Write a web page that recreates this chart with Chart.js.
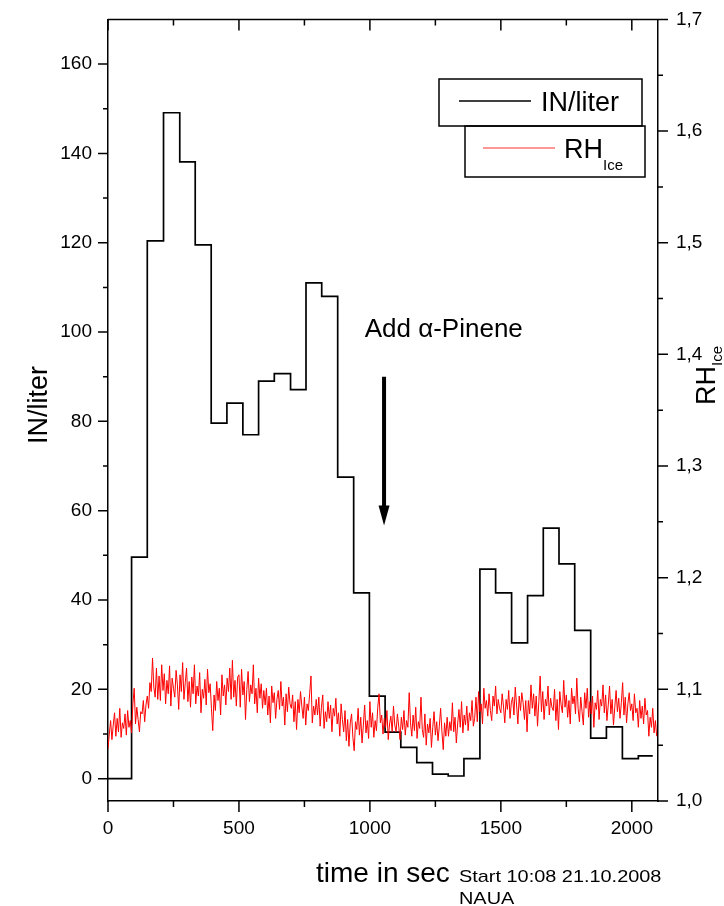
<!DOCTYPE html>
<html>
<head>
<meta charset="utf-8">
<script src="https://cdn.jsdelivr.net/npm/chart.js@4.4.1/dist/chart.umd.min.js"></script>
<style>
  body { margin: 0; background: #fff; }
  canvas { display: block; }
</style>
</head>
<body>
<canvas id="nchart" width="724" height="906"></canvas>
<script>
// IN/liter, step values (start time of each interval in s, level)
const inTime = [0, 90, 150, 212, 274, 333, 394, 454, 515, 575, 635, 697, 756, 816, 877, 938, 998,
  1058, 1118, 1179, 1239, 1299, 1359, 1420, 1480, 1541, 1602, 1662, 1722, 1782, 1843, 1903, 1964, 2025, 2080];
const inLevel = [0, 49.6, 120.4, 149.1, 138.1, 119.5, 79.6, 84.1, 77.0, 89.0, 90.7, 87.1, 111.0, 108.0, 67.5, 41.6, 18.5,
  10.4, 7.0, 3.6, 1.0, 0.6, 4.5, 46.9, 41.6, 30.4, 41.0, 56.1, 48.1, 33.2, 9.1, 11.6, 4.5, 5.1, 5.1];

// RH ice, one reading every 5 s from t = 0
const rhStart = 0;
const rhStep = 5;
const rhIce = [
  1.047, 1.060, 1.072, 1.055, 1.068, 1.079, 1.058, 1.074, 1.062, 1.083, 1.057, 1.070, 1.065, 1.078, 1.059, 1.081, 1.066, 1.072, 1.061, 1.087,
  1.101, 1.069, 1.084, 1.073, 1.062, 1.080, 1.078, 1.090, 1.071, 1.086, 1.094, 1.083, 1.106, 1.098, 1.128, 1.102, 1.093, 1.119, 1.091, 1.112,
  1.090, 1.122, 1.099, 1.114, 1.087, 1.108, 1.096, 1.121, 1.085, 1.110, 1.101, 1.093, 1.117, 1.104, 1.082, 1.113, 1.098, 1.124, 1.091, 1.106,
  1.119, 1.089, 1.107, 1.084, 1.111, 1.096, 1.122, 1.087, 1.103, 1.094, 1.115, 1.079, 1.100, 1.092, 1.109, 1.086, 1.118, 1.097, 1.105, 1.083,
  1.063, 1.095, 1.081, 1.107, 1.090, 1.101, 1.077, 1.113, 1.094, 1.104, 1.086, 1.110, 1.098, 1.119, 1.091, 1.126, 1.093, 1.108, 1.085, 1.111,
  1.113, 1.084, 1.118, 1.095, 1.107, 1.073, 1.100, 1.116, 1.089, 1.104, 1.096, 1.122, 1.087, 1.101, 1.079, 1.110, 1.092, 1.105, 1.083, 1.099,
  1.086, 1.101, 1.077, 1.094, 1.070, 1.103, 1.088, 1.097, 1.074, 1.091, 1.099, 1.082, 1.107, 1.085, 1.093, 1.068, 1.096, 1.080, 1.102, 1.087,
  1.083, 1.095, 1.071, 1.089, 1.064, 1.091, 1.079, 1.098, 1.085, 1.074, 1.093, 1.068, 1.087, 1.081, 1.096, 1.112, 1.070, 1.085, 1.077, 1.091,
  1.077, 1.093, 1.067, 1.084, 1.095, 1.065, 1.080, 1.071, 1.089, 1.074, 1.086, 1.062, 1.083, 1.076, 1.092, 1.069, 1.079, 1.058, 1.087, 1.073,
  1.062, 1.081, 1.054, 1.073, 1.049, 1.070, 1.078, 1.057, 1.045, 1.071, 1.064, 1.083, 1.059, 1.075, 1.052, 1.068, 1.086, 1.061, 1.072, 1.056,
  1.089, 1.066, 1.079, 1.057, 1.072, 1.063, 1.084, 1.096, 1.070, 1.077, 1.060, 1.074, 1.066, 1.081, 1.055, 1.069, 1.076, 1.062, 1.085, 1.068,
  1.062, 1.078, 1.067, 1.055, 1.075, 1.064, 1.081, 1.059, 1.072, 1.066, 1.097, 1.070, 1.058, 1.077, 1.063, 1.084, 1.056, 1.071, 1.065, 1.093,
  1.064, 1.057, 1.078, 1.050, 1.069, 1.061, 1.074, 1.048, 1.066, 1.080, 1.059, 1.071, 1.054, 1.067, 1.083, 1.062, 1.046, 1.070, 1.058, 1.075,
  1.058, 1.071, 1.063, 1.088, 1.062, 1.075, 1.052, 1.069, 1.082, 1.066, 1.089, 1.061, 1.077, 1.068, 1.085, 1.063, 1.079, 1.072, 1.090, 1.067,
  1.074, 1.093, 1.071, 1.098, 1.080, 1.087, 1.069, 1.101, 1.083, 1.090, 1.076, 1.096, 1.081, 1.072, 1.094, 1.085, 1.103, 1.078, 1.091, 1.083,
  1.079, 1.096, 1.085, 1.070, 1.091, 1.082, 1.099, 1.074, 1.088, 1.093, 1.077, 1.102, 1.086, 1.069, 1.094, 1.081, 1.097, 1.088, 1.073, 1.090,
  1.062, 1.090, 1.078, 1.104, 1.083, 1.096, 1.076, 1.094, 1.067, 1.089, 1.112, 1.080, 1.098, 1.073, 1.091, 1.085, 1.103, 1.077, 1.092, 1.084,
  1.081, 1.100, 1.072, 1.091, 1.064, 1.098, 1.086, 1.079, 1.108, 1.084, 1.095, 1.075, 1.090, 1.069, 1.101, 1.087, 1.094, 1.078, 1.110, 1.083,
  1.071, 1.093, 1.080, 1.068, 1.097, 1.083, 1.101, 1.075, 1.089, 1.078, 1.094, 1.066, 1.088, 1.082, 1.099, 1.073, 1.091, 1.085, 1.104, 1.079,
  1.095, 1.072, 1.086, 1.103, 1.078, 1.091, 1.068, 1.084, 1.099, 1.080, 1.092, 1.074, 1.088, 1.106, 1.077, 1.093, 1.070, 1.087, 1.097, 1.081,
  1.087, 1.072, 1.096, 1.079, 1.083, 1.066, 1.090, 1.074, 1.085, 1.069, 1.092, 1.077, 1.081, 1.058, 1.075, 1.066, 1.083, 1.061, 1.072, 1.058
];

// annotation: time of addition and arrow span (IN/liter units)
const addTime = 1054;
const arrowTop = 90;
const arrowTip = 56.7;

const FONT = '"Liberation Sans", Arial, sans-serif';

let inData = inTime.map((t, i) => ({ x: t, y: inLevel[i] }));
let rhData = rhIce.map((v, i) => ({ x: rhStart + i * rhStep, y: v }));

// draws tick marks (major / minor), top frame, legend boxes and texts
const decor = {
  id: 'decor',
  afterDraw(chart) {
    const ctx = chart.ctx;
    const a = chart.chartArea;
    const xs = chart.scales.x, yl = chart.scales.y, yr = chart.scales.y1;
    ctx.save();
    ctx.strokeStyle = '#000';
    ctx.lineWidth = 1.5;
    // top frame
    ctx.beginPath();
    ctx.moveTo(a.left, a.top);
    ctx.lineTo(a.right, a.top);
    ctx.stroke();

    ctx.beginPath();
    xs.ticks.forEach(t => {
      if (t.value < 0 || t.value > 2100) return;
      let px = xs.getPixelForValue(t.value);
      let len = t.value % 500 === 0 ? 11 : 6;
      ctx.moveTo(px, a.bottom); ctx.lineTo(px, a.bottom + len);
      ctx.moveTo(px, a.top); ctx.lineTo(px, a.top + len);
    });
    yl.ticks.forEach(t => {
      if (t.value < 0 || t.value > 165) return;
      let py = yl.getPixelForValue(t.value);
      let len = t.value % 20 === 0 ? 10 : 5;
      ctx.moveTo(a.left, py); ctx.lineTo(a.left - len, py);
    });
    yr.ticks.forEach(t => {
      let py = yr.getPixelForValue(t.value);
      let major = Math.round(t.value * 100) % 10 === 0;
      let len = major ? 10 : 5;
      ctx.moveTo(a.right, py); ctx.lineTo(a.right + len, py);
    });
    ctx.stroke();

    // arrow
    let ax = xs.getPixelForValue(addTime);
    let at = yl.getPixelForValue(arrowTop);
    let ap = yl.getPixelForValue(arrowTip);
    ctx.lineWidth = 4;
    ctx.beginPath();
    ctx.moveTo(ax, at); ctx.lineTo(ax, ap - 16);
    ctx.stroke();
    ctx.fillStyle = '#000';
    ctx.beginPath();
    ctx.moveTo(ax - 5.5, ap - 20); ctx.lineTo(ax + 5.5, ap - 20); ctx.lineTo(ax, ap);
    ctx.closePath();
    ctx.fill();

    // annotation text
    ctx.font = '26px ' + FONT;
    ctx.textAlign = 'left';
    ctx.textBaseline = 'alphabetic';
    ctx.fillText('Add \u03B1-Pinene', xs.getPixelForValue(980), yl.getPixelForValue(98.9));

    // legend boxes
    ctx.lineWidth = 1.5;
    ctx.strokeRect(439, 79, 203, 47);
    ctx.strokeRect(465, 126, 180, 51);
    ctx.beginPath();
    ctx.moveTo(459, 101); ctx.lineTo(531, 101);
    ctx.stroke();
    ctx.strokeStyle = 'rgba(255,0,0,0.55)';
    ctx.lineWidth = 1.5;
    ctx.beginPath();
    ctx.moveTo(483, 148); ctx.lineTo(555, 148);
    ctx.stroke();
    ctx.font = '27px ' + FONT;
    ctx.fillText('IN/liter', 541, 111);
    ctx.fillText('RH', 564, 158);
    let rw = ctx.measureText('RH').width;
    ctx.font = '15px ' + FONT;
    ctx.fillText('Ice', 564 + rw, 170);

    // axis titles
    ctx.save();
    ctx.translate(47, 405);
    ctx.rotate(-Math.PI / 2);
    ctx.font = '27px ' + FONT;
    ctx.textAlign = 'center';
    ctx.fillText('IN/liter', 0, 0);
    ctx.restore();

    ctx.save();
    ctx.translate(715, 405);
    ctx.rotate(-Math.PI / 2);
    ctx.font = '27px ' + FONT;
    ctx.fillText('RH', 0, 0);
    let w2 = ctx.measureText('RH').width;
    ctx.font = '15px ' + FONT;
    ctx.fillText('Ice', w2, 7);
    ctx.restore();

    ctx.font = '28px ' + FONT;
    ctx.fillText('time in sec', 316, 882);
    ctx.font = '17px ' + FONT;
    ctx.save();
    ctx.translate(459, 882);
    ctx.scale(1.17, 1);
    ctx.fillText('Start 10:08 21.10.2008', 0, 0);
    ctx.fillText('NAUA', 0, 22);
    ctx.restore();
    ctx.restore();
  }
};

let chartGraph = new Chart(document.getElementById('nchart'), {
  type: 'line',
  data: {
    datasets: [
      {
        label: 'RH Ice',
        data: rhData,
        yAxisID: 'y1',
        borderColor: '#ff0000',
        borderWidth: 1,
        pointRadius: 0,
        tension: 0,
        order: 0
      },
      {
        label: 'IN/liter',
        data: inData,
        yAxisID: 'y',
        borderColor: '#000000',
        borderWidth: 1.7,
        pointRadius: 0,
        stepped: true,
        order: 1
      }
    ]
  },
  options: {
    responsive: false,
    animation: false,
    devicePixelRatio: 1,
    layout: { padding: { top: 17, left: 0, right: 0, bottom: 0 } },
    plugins: { legend: { display: false }, tooltip: { enabled: false } },
    scales: {
      x: {
        type: 'linear',
        position: 'bottom',
        min: 0, max: 2100,
        grid: { display: true, drawOnChartArea: false, drawTicks: true, tickLength: 10, tickColor: 'rgba(0,0,0,0)' },
        border: { display: true, color: '#000', width: 1.5 },
        ticks: {
          stepSize: 250, autoSkip: false, maxRotation: 0, padding: 6, includeBounds: false,
          color: '#000', font: { family: FONT, size: 19 },
          callback: v => (v % 500 === 0 ? v : '')
        },
        afterFit: s => { s.height = 105; }
      },
      y: {
        position: 'left',
        min: -5, max: 170,
        grid: { display: true, drawOnChartArea: false, drawTicks: true, tickLength: 10, tickColor: 'rgba(0,0,0,0)' },
        border: { display: true, color: '#000', width: 1.5 },
        ticks: {
          stepSize: 10, autoSkip: false, padding: 6, includeBounds: false,
          color: '#000', font: { family: FONT, size: 19 },
          callback: v => (v >= 0 && v <= 160 && v % 20 === 0 ? v : '')
        },
        afterFit: s => { s.width = 108; }
      },
      y1: {
        position: 'right',
        min: 1.0, max: 1.7,
        grid: { display: true, drawOnChartArea: false, drawTicks: true, tickLength: 10, tickColor: 'rgba(0,0,0,0)' },
        border: { display: true, color: '#000', width: 1.5 },
        ticks: {
          stepSize: 0.05, autoSkip: false, padding: 8,
          color: '#000', font: { family: FONT, size: 19 },
          callback: v => {
            let k = Math.round(v * 100);
            return k % 10 === 0 ? (k / 100).toFixed(1).replace('.', ',') : '';
          }
        },
        afterFit: s => { s.width = 66; }
      }
    }
  },
  plugins: [decor]
});
</script>
</body>
</html>
